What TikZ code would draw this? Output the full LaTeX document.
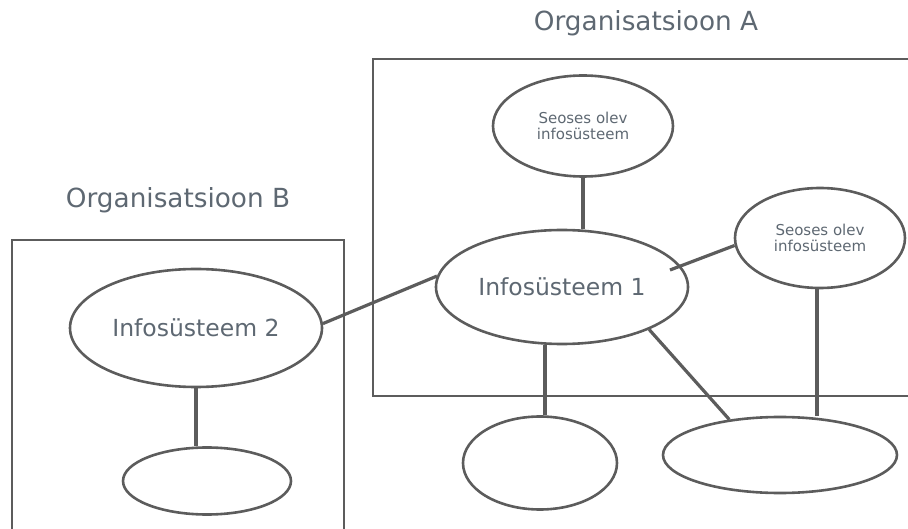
\documentclass[tikz,border=0pt]{standalone}
\usepackage{fontspec}
\setmainfont{DejaVu Sans}
\usetikzlibrary{shapes.geometric,calc}
\definecolor{linegray}{HTML}{5C5C5C}
\definecolor{textgray}{HTML}{5E6872}
\begin{document}
\begin{tikzpicture}[x=1pt,y=-1pt,
  ell/.style={ellipse,draw=linegray,line width=2.6pt,inner sep=0pt,text=textgray,align=center},
  org/.style={draw=linegray,line width=2.4pt},
  conn/.style={draw=linegray,line width=3.2pt},
  title/.style={text=textgray,font=\fontsize{26.3}{31}\selectfont,inner sep=0pt},
  big/.style={font=\fontsize{23.5}{28}\selectfont},
  small/.style={font=\fontsize{15}{16.5}\selectfont}]
\useasboundingbox (0,0) rectangle (908,529);
% organisation boxes
\draw[org] (373,59) rectangle (930,396);
\draw[org] (12,550) -- (12,240) -- (344,240) -- (344,550);
\node[title] (ta) at (646,23) {Organisatsioon A};
\node[title] (tb) at (178,200) {Organisatsioon B};
% ellipses
\node[ell,small,minimum width=180pt,minimum height=101pt] (s1) at (583,126) {Seoses olev\\infosüsteem};
\node[ell,small,minimum width=170pt,minimum height=100pt] (s2) at (820,238) {Seoses olev\\infosüsteem};
\node[ell,big,minimum width=252pt,minimum height=114pt] (i1) at (562,287) {Infosüsteem 1};
\node[ell,big,minimum width=252pt,minimum height=118pt] (i2) at (196,328) {Infosüsteem 2};
\node[ell,minimum width=168pt,minimum height=67pt] (e3) at (207,481) {};
\node[ell,minimum width=154pt,minimum height=93pt] (b1) at (540,463) {};
\node[ell,minimum width=234pt,minimum height=76pt] (b2) at (780,455) {};
\coordinate (p1) at (670,270);
% connectors
\draw[conn] (i2.2) -- (i1.175);
\draw[conn] (s1.south) -- (s1.south |- i1.north);
\draw[conn] (p1) -- (s2.185);
\draw[conn] (i1.south -| 545,0) -- (b1.north -| 545,0);
\draw[conn] (i1.-26) -- (b2.145);
\draw[conn] (s2.south -| 817,0) -- (b2.north -| 817,0);
\draw[conn] (i2.south) -- (i2.south |- e3.north);
\end{tikzpicture}
\end{document}
